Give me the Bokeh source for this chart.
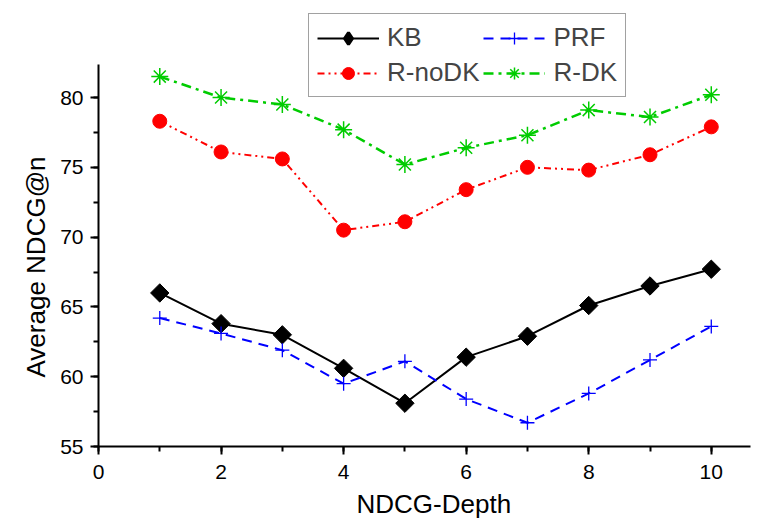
import math
from bokeh.plotting import figure
from bokeh.models import Range1d, SingleIntervalTicker, Legend, LegendItem, Title
from bokeh.embed import file_html
from bokeh.resources import INLINE

depth = [1, 2, 3, 4, 5, 6, 7, 8, 9, 10]
kb = [66.0, 63.8, 63.0, 60.6, 58.1, 61.4, 62.9, 65.1, 66.5, 67.7]
prf = [64.2, 63.1, 61.9, 59.5, 61.1, 58.4, 56.7, 58.8, 61.2, 63.6]
r_nodk = [78.3, 76.1, 75.6, 70.5, 71.1, 73.4, 75.0, 74.8, 75.9, 77.9]
r_dk = [81.5, 80.0, 79.5, 77.7, 75.2, 76.4, 77.3, 79.1, 78.6, 80.2]
x_ticks_interval = 2
y_ticks_interval = 5
x_title = "NDCG-Depth"
y_title = "Average NDCG@n"

FONT = "Liberation Sans"

p = figure(width=754, height=530, output_backend="svg", toolbar_location=None,
           x_range=Range1d(0, 10.64), y_range=Range1d(55, 86.45),
           min_border_left=98, min_border_right=4, min_border_top=7, min_border_bottom=84)
p.outline_line_color = None
p.xgrid.visible = False
p.ygrid.visible = False
p.background_fill_color = "white"

l1 = p.line(depth, kb, line_color="black", line_width=2)
# narrow diamond (used for the legend swatch), hidden beneath the rotated squares
m1_leg = p.scatter(depth, kb, marker="diamond", size=12, fill_color="black",
                   line_color="black", line_width=3)
m1 = p.scatter(depth, kb, marker="square", size=13, angle=math.pi / 4,
               fill_color="black", line_color="black")
l2 = p.line(depth, prf, line_color="#0000ff", line_width=2, line_dash="10 7")
m2 = p.scatter(depth, prf, marker="cross", size=14, line_color="#0000ff", line_width=1.3)
l3 = p.line(depth, r_nodk, line_color="#ff0000", line_width=2, line_dash="7 4 2 4 2 4")
m3 = p.scatter(depth, r_nodk, marker="circle", size=14, fill_color="#ff0000", line_color="#ff0000")
l4 = p.line(depth, r_dk, line_color="#00cc00", line_width=2.5, line_dash="10 5 3 5")
m4 = p.scatter(depth, r_dk, marker="asterisk", size=17, line_color="#00cc00", line_width=1.5)

for ax in (p.xaxis[0], p.yaxis[0]):
    ax.axis_line_width = 2
    ax.major_tick_line_width = 2
    ax.minor_tick_line_width = 2
    ax.major_tick_out = 8
    ax.major_tick_in = 0
    ax.minor_tick_out = 5
    ax.minor_tick_in = 0
    ax.major_label_text_font = FONT
    ax.major_label_text_font_size = "21px"
    ax.major_label_text_color = "black"

p.xaxis.ticker = SingleIntervalTicker(interval=x_ticks_interval, num_minor_ticks=2)
p.yaxis.ticker = SingleIntervalTicker(interval=y_ticks_interval, num_minor_ticks=2)
p.yaxis.bounds = (55, 82.4)
p.xaxis.major_label_standoff = 10
p.yaxis.major_label_standoff = 7

p.add_layout(Title(text=x_title, align="left", offset=258, standoff=10,
                   text_font=FONT, text_font_size="26px", text_font_style="normal",
                   text_color="black"), "below")
p.add_layout(Title(text=y_title, align="left", offset=69, standoff=14,
                   text_font=FONT, text_font_size="26px", text_font_style="normal",
                   text_color="black"), "left")

legend = Legend(items=[
    LegendItem(label="KB", renderers=[l1, m1_leg]),
    LegendItem(label="R-noDK", renderers=[l3, m3]),
    LegendItem(label="PRF", renderers=[l2, m2]),
    LegendItem(label="R-DK", renderers=[l4, m4]),
], ncols=2, location=(210, 349))
legend.label_text_font = FONT
legend.label_text_font_size = "26px"
legend.glyph_width = 62
legend.glyph_height = 30
legend.label_height = 28
legend.label_standoff = 8
legend.spacing = 4
legend.padding = 8
legend.margin = 0
legend.border_line_color = "#444444"
legend.border_line_width = 1.5
legend.background_fill_alpha = 1
p.add_layout(legend, "center")

open("out.html", "w").write(file_html(p, INLINE))
